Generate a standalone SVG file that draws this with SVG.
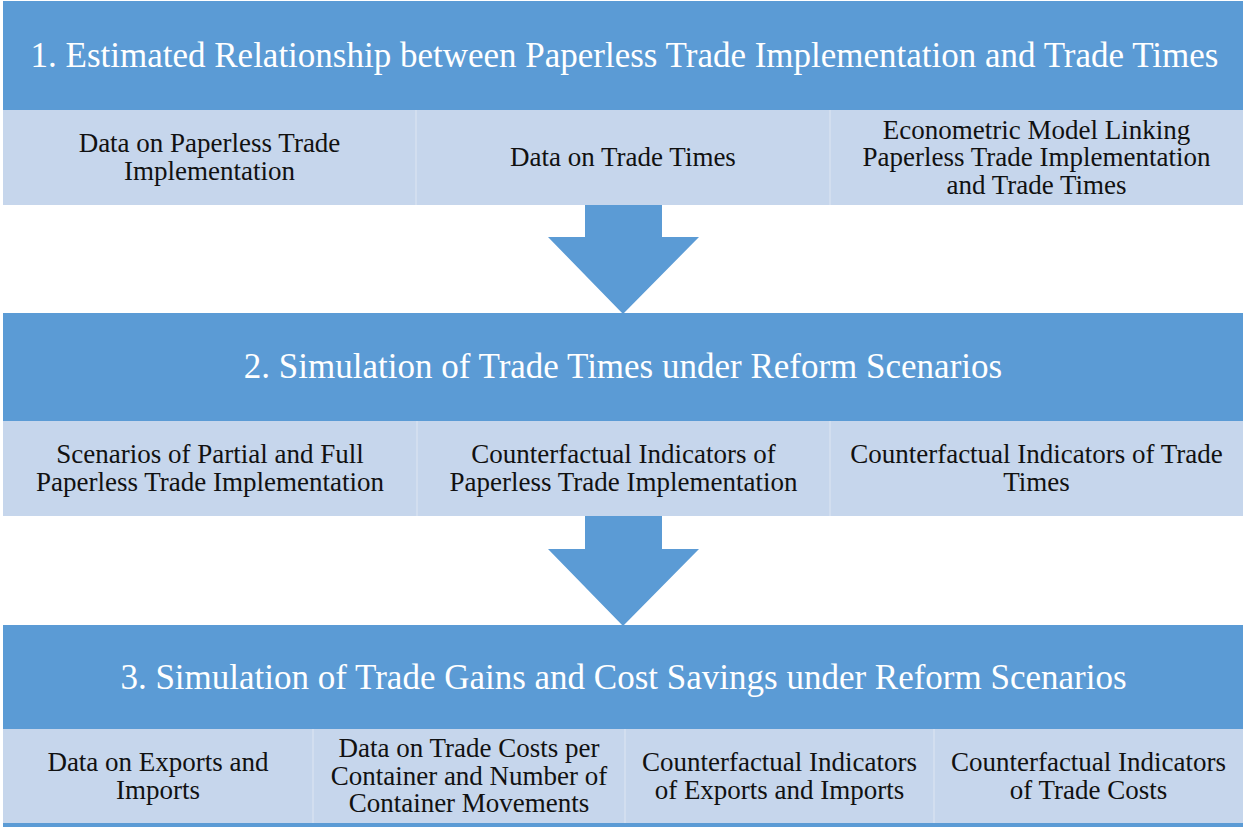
<svg xmlns="http://www.w3.org/2000/svg" width="1243" height="827" viewBox="0 0 1243 827">
<style>
.hdr{fill:#5B9BD5}
.cell{fill:#C6D6EC}
.div{stroke:#D6E1F1;stroke-width:1.5}
.arrow{fill:#5B9BD5}
.ht{font-family:'Liberation Serif','Times New Roman',serif;font-size:35px;fill:#FFFFFF;text-anchor:middle}
.ct{font-family:'Liberation Serif','Times New Roman',serif;font-size:27px;fill:#111111;text-anchor:middle}
</style>
<rect width="1243" height="827" fill="#FFFFFF"/>
<g id="stage1">
<rect class="hdr" x="3" y="1" width="1240" height="109"/>
<text class="ht" x="624.5" y="67">1. Estimated Relationship between Paperless Trade Implementation and Trade Times</text>
</g>
<g id="s1c1"><rect class="cell" x="3" y="110" width="413" height="95"/>
<text class="ct" x="209.5" y="152">Data on Paperless Trade</text><text class="ct" x="209.5" y="180">Implementation</text></g>
<g id="s1c2"><rect class="cell" x="416" y="110" width="414" height="95"/>
<text class="ct" x="623" y="166">Data on Trade Times</text></g>
<g id="s1c3"><rect class="cell" x="830" y="110" width="413" height="95"/>
<text class="ct" x="1036.5" y="138.5">Econometric Model Linking</text><text class="ct" x="1036.5" y="166">Paperless Trade Implementation</text><text class="ct" x="1036.5" y="193.5">and Trade Times</text></g>

<g id="stage2">
<rect class="hdr" x="3" y="313" width="1240" height="108"/>
<text class="ht" x="623" y="378">2. Simulation of Trade Times under Reform Scenarios</text>
</g>
<g id="s2c1"><rect class="cell" x="3" y="421" width="414" height="95"/>
<text class="ct" x="210" y="463">Scenarios of Partial and Full</text><text class="ct" x="210" y="491">Paperless Trade Implementation</text></g>
<g id="s2c2"><rect class="cell" x="417" y="421" width="413" height="95"/>
<text class="ct" x="623.5" y="463">Counterfactual Indicators of</text><text class="ct" x="623.5" y="491">Paperless Trade Implementation</text></g>
<g id="s2c3"><rect class="cell" x="830" y="421" width="413" height="95"/>
<text class="ct" x="1036.5" y="463">Counterfactual Indicators of Trade</text><text class="ct" x="1036.5" y="491">Times</text></g>

<g id="stage3">
<rect class="hdr" x="3" y="625" width="1240" height="104"/>
<text class="ht" x="623.5" y="689">3. Simulation of Trade Gains and Cost Savings under Reform Scenarios</text>
</g>
<g id="s3c1"><rect class="cell" x="3" y="729" width="310" height="94"/>
<text class="ct" x="158" y="770.5">Data on Exports and</text><text class="ct" x="158" y="798.5">Imports</text></g>
<g id="s3c2"><rect class="cell" x="313" y="729" width="312" height="94"/>
<text class="ct" x="469" y="757">Data on Trade Costs per</text><text class="ct" x="469" y="784.5">Container and Number of</text><text class="ct" x="469" y="812">Container Movements</text></g>
<g id="s3c3"><rect class="cell" x="625" y="729" width="309" height="94"/>
<text class="ct" x="779.5" y="770.5">Counterfactual Indicators</text><text class="ct" x="779.5" y="798.5">of Exports and Imports</text></g>
<g id="s3c4"><rect class="cell" x="934" y="729" width="309" height="94"/>
<text class="ct" x="1088.5" y="770.5">Counterfactual Indicators</text><text class="ct" x="1088.5" y="798.5">of Trade Costs</text></g>
<rect class="hdr" x="3" y="823" width="1240" height="4"/>

<g id="dividers">
<line class="div" x1="416" y1="110" x2="416" y2="205"/>
<line class="div" x1="830" y1="110" x2="830" y2="205"/>
<line class="div" x1="417" y1="421" x2="417" y2="516"/>
<line class="div" x1="830" y1="421" x2="830" y2="516"/>
<line class="div" x1="313" y1="729" x2="313" y2="823"/>
<line class="div" x1="625" y1="729" x2="625" y2="823"/>
<line class="div" x1="934" y1="729" x2="934" y2="823"/>
</g>

<g id="connectors">
<polygon class="arrow" points="585,205 662,205 662,237 699,237 623,314 548,237 585,237"/>
<polygon class="arrow" points="585,516 662,516 662,549 699,549 623,626 548,549 585,549"/>
</g>
</svg>
